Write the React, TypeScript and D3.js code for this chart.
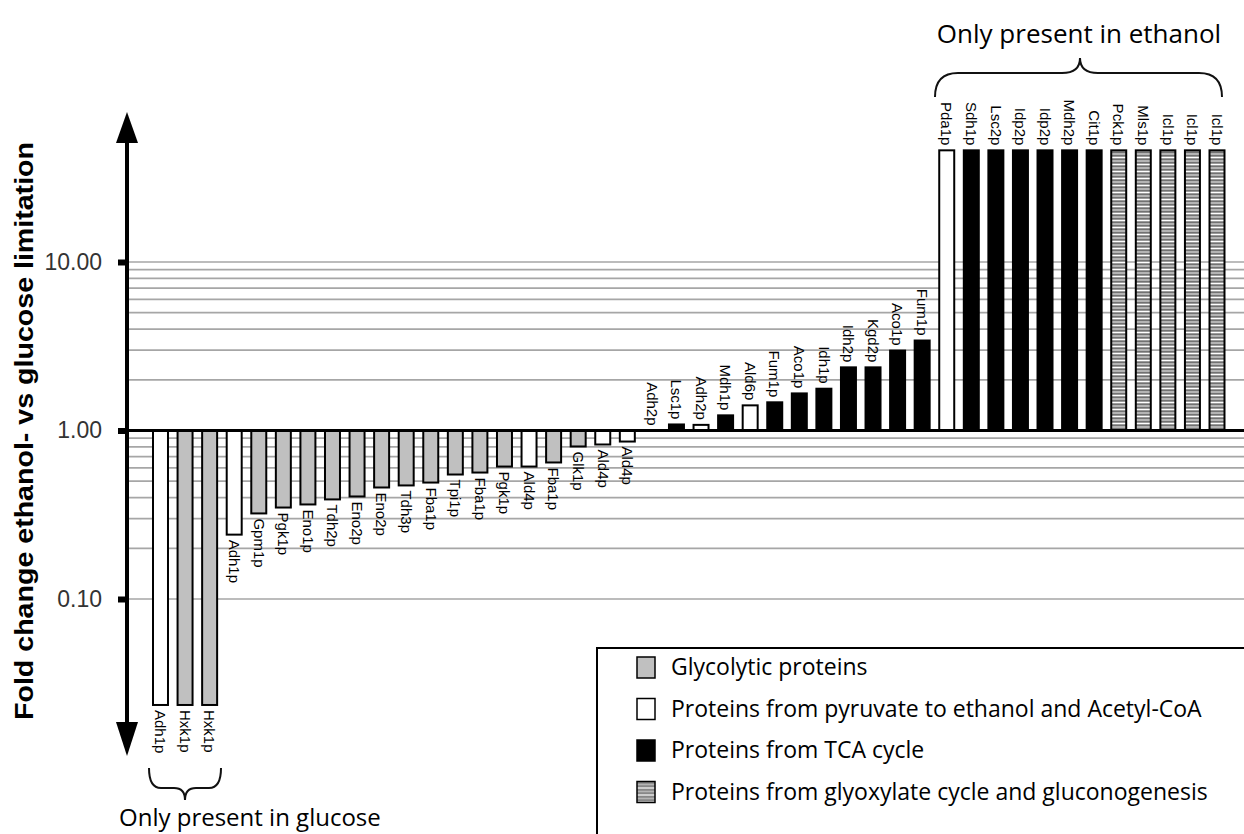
import React, { useEffect, useRef } from 'react';
import * as d3 from 'd3';

// protein names left to right
const names = [
  'Adh1p', 'Hxk1p', 'Hxk1p', 'Adh1p', 'Gpm1p', 'Pgk1p', 'Eno1p', 'Tdh2p', 'Eno2p', 'Eno2p',
  'Tdh3p', 'Fba1p', 'Tpi1p', 'Fba1p', 'Pgk1p', 'Ald4p', 'Fba1p', 'Glk1p', 'Ald4p', 'Ald4p',
  'Adh2p', 'Lsc1p', 'Adh2p', 'Mdh1p', 'Ald6p', 'Fum1p', 'Aco1p', 'Idh1p', 'Idh2p', 'Kgd2p',
  'Aco1p', 'Fum1p', 'Pda1p', 'Sdh1p', 'Lsc2p', 'Idp2p', 'Idp2p', 'Mdh2p', 'Cit1p', 'Pck1p',
  'Mls1p', 'Icl1p', 'Icl1p', 'Icl1p',
];
// g = glycolytic, p = pyruvate to ethanol / acetyl-CoA, t = TCA, x = glyoxylate / gluconeogenesis
const groups = [
  'p', 'g', 'g', 'p', 'g', 'g', 'g', 'g', 'g', 'g',
  'g', 'g', 'g', 'g', 'g', 'p', 'g', 'g', 'p', 'p',
  'p', 't', 'p', 't', 'p', 't', 't', 't', 't', 't',
  't', 't', 'p', 't', 't', 't', 't', 't', 't', 'x',
  'x', 'x', 'x', 'x',
];
// fold change ethanol vs glucose
const values = [
  0.0235, 0.0235, 0.0235, 0.241, 0.322, 0.349, 0.364, 0.39, 0.406, 0.459,
  0.472, 0.491, 0.548, 0.563, 0.611, 0.611, 0.646, 0.804, 0.826, 0.86,
  1.0, 1.086, 1.08, 1.23, 1.41, 1.47, 1.66, 1.77, 2.37, 2.37,
  2.98, 3.42, 46, 46, 46, 46, 46, 46, 46, 46,
  46, 46, 46, 46,
];
const tickValues = [0.1, 1, 10];
const legendKeys = ['g', 'p', 't', 'x'];
const legendLabels = [
  'Glycolytic proteins',
  'Proteins from pyruvate to ethanol and Acetyl-CoA',
  'Proteins from TCA cycle',
  'Proteins from glyoxylate cycle and gluconogenesis',
];

const fills: Record<string, string> = {
  g: '#c0c0c0',
  p: '#ffffff',
  t: '#000000',
  x: 'url(#stripes)',
};

export default function App() {
  const ref = useRef<SVGSVGElement>(null);

  useEffect(() => {
    const width = 1244,
      axisX = 127,
      step = 24.57,
      n = names.length;

    const svg = d3.select(ref.current);
    svg.selectAll('*').remove();

    // bands for the bars
    const x = d3.scaleBand<number>()
      .domain(d3.range(n))
      .range([153, 153 + step * (n - 0.39)])
      .paddingInner(0.39)
      .paddingOuter(0);

    // log scale, one decade is about 168px
    const y = d3.scaleLog()
      .domain([0.1, 10])
      .range([599, 262]);

    // striped fill
    const pat = svg.append('defs').append('pattern')
      .attr('id', 'stripes')
      .attr('patternUnits', 'userSpaceOnUse')
      .attr('width', 20)
      .attr('height', 7);
    pat.append('rect').attr('width', 20).attr('height', 7).attr('fill', '#b4b4b4');
    pat.append('rect').attr('x', -1).attr('y', 2).attr('width', 22).attr('height', 3)
      .attr('fill', '#fff').attr('stroke', '#222').attr('stroke-width', 0.9);

    // gridlines at 0.1..0.9 and 2..10
    const minor = d3.range(1, 10).map(k => k / 10).concat(d3.range(2, 11));
    svg.append('g')
      .selectAll('line').data(minor).enter().append('line')
      .attr('x1', axisX).attr('x2', width)
      .attr('y1', d => y(d)).attr('y2', d => y(d))
      .attr('stroke', '#a6a6a6')
      .attr('stroke-width', 1.7);

    const y0 = y(1);

    // bars
    svg.append('g')
      .selectAll('rect').data(values).enter().append('rect')
      .attr('x', (d, i) => x(i) as number)
      .attr('width', x.bandwidth())
      .attr('y', d => Math.min(y(d), y0))
      .attr('height', d => Math.abs(y(d) - y0))
      .attr('fill', (d, i) => fills[groups[i]])
      .attr('stroke', '#000')
      .attr('stroke-width', 2);

    // baseline at 1.00
    svg.append('line')
      .attr('x1', axisX).attr('x2', width)
      .attr('y1', y0).attr('y2', y0)
      .attr('stroke', '#000').attr('stroke-width', 3);

    // rotated bar labels
    svg.append('g')
      .selectAll('text').data(values).enter().append('text')
      .attr('transform', (d, i) => {
        const cx = (x(i) as number) + x.bandwidth() / 2;
        const ty = d < 1 ? y(d) + 5 : y(d) - 5;
        return `translate(${cx},${ty}) rotate(90)`;
      })
      .attr('dy', '0.35em')
      .attr('text-anchor', d => (d < 1 ? 'start' : 'end'))
      .style('font', '15px "Liberation Sans", Arial, sans-serif')
      .text((d, i) => names[i]);

    // y axis with arrows
    svg.append('line')
      .attr('x1', axisX).attr('x2', axisX)
      .attr('y1', 140).attr('y2', 725)
      .attr('stroke', '#000').attr('stroke-width', 4);
    svg.append('path')
      .attr('d', `M${axisX},112L${axisX - 11},143L${axisX + 11},143Z`)
      .attr('fill', '#000');
    svg.append('path')
      .attr('d', `M${axisX},756L${axisX - 11},722L${axisX + 11},722Z`)
      .attr('fill', '#000');

    const yAxis = svg.append('g')
      .attr('transform', `translate(${axisX},0)`)
      .call(d3.axisLeft(y).tickValues(tickValues).tickFormat(d3.format('.2f')).tickSize(9).tickPadding(16));
    yAxis.attr('font-size', null).attr('font-family', null);
    yAxis.select('.domain').remove();
    yAxis.selectAll('.tick line').attr('stroke', '#000').attr('stroke-width', 6);
    yAxis.selectAll('.tick text')
      .attr('fill', '#333')
      .style('font-family', '"Liberation Sans", Arial, sans-serif')
      .style('font-size', '23px');

    // axis title
    svg.append('text')
      .attr('transform', 'translate(33,431) rotate(-90)')
      .attr('text-anchor', 'middle')
      .attr('textLength', 578)
      .attr('lengthAdjust', 'spacingAndGlyphs')
      .style('font', 'bold 26px "Liberation Sans", Arial, sans-serif')
      .text('Fold change ethanol- vs glucose limitation');

    // braces
    const ann = '"Open Sans", "Noto Sans", sans-serif';
    svg.append('path')
      .attr('d', 'M935,97Q935,73 958,73L1062,73Q1080,73 1080,58Q1080,73 1098,73L1199,73Q1222,73 1222,97')
      .attr('fill', 'none').attr('stroke', '#111').attr('stroke-width', 2);
    svg.append('text')
      .attr('x', 1079).attr('y', 43)
      .attr('text-anchor', 'middle')
      .style('font', `26px ${ann}`)
      .text('Only present in ethanol');

    svg.append('path')
      .attr('d', 'M149,768Q149,788 161,788L174,788Q185,788 185,800Q185,788 196,788L209,788Q221,788 221,768')
      .attr('fill', 'none').attr('stroke', '#111').attr('stroke-width', 2);
    svg.append('text')
      .attr('x', 119).attr('y', 826)
      .style('font', `24px ${ann}`)
      .text('Only present in glucose');

    // legend
    const lg = svg.append('g');
    lg.append('rect')
      .attr('x', 597).attr('y', 648)
      .attr('width', 700).attr('height', 250)
      .attr('fill', '#fff').attr('stroke', '#000').attr('stroke-width', 2);
    const item = lg.selectAll('g.item').data(legendKeys).enter().append('g')
      .attr('class', 'item')
      .attr('transform', (d, i) => `translate(0,${667 + i * 41.5})`);
    item.append('rect')
      .attr('x', 637).attr('y', -10)
      .attr('width', 18).attr('height', 21)
      .attr('fill', d => fills[d])
      .attr('stroke', '#000').attr('stroke-width', 1.5);
    item.append('text')
      .attr('x', 671).attr('dy', '0.35em')
      .style('font', `23px ${ann}`)
      .text((d, i) => legendLabels[i]);
  }, []);

  return (
    <svg
      ref={ref}
      width={1244}
      height={834}
      style={{ position: 'absolute', left: 0, top: 0, background: '#fff' }}
    />
  );
}
